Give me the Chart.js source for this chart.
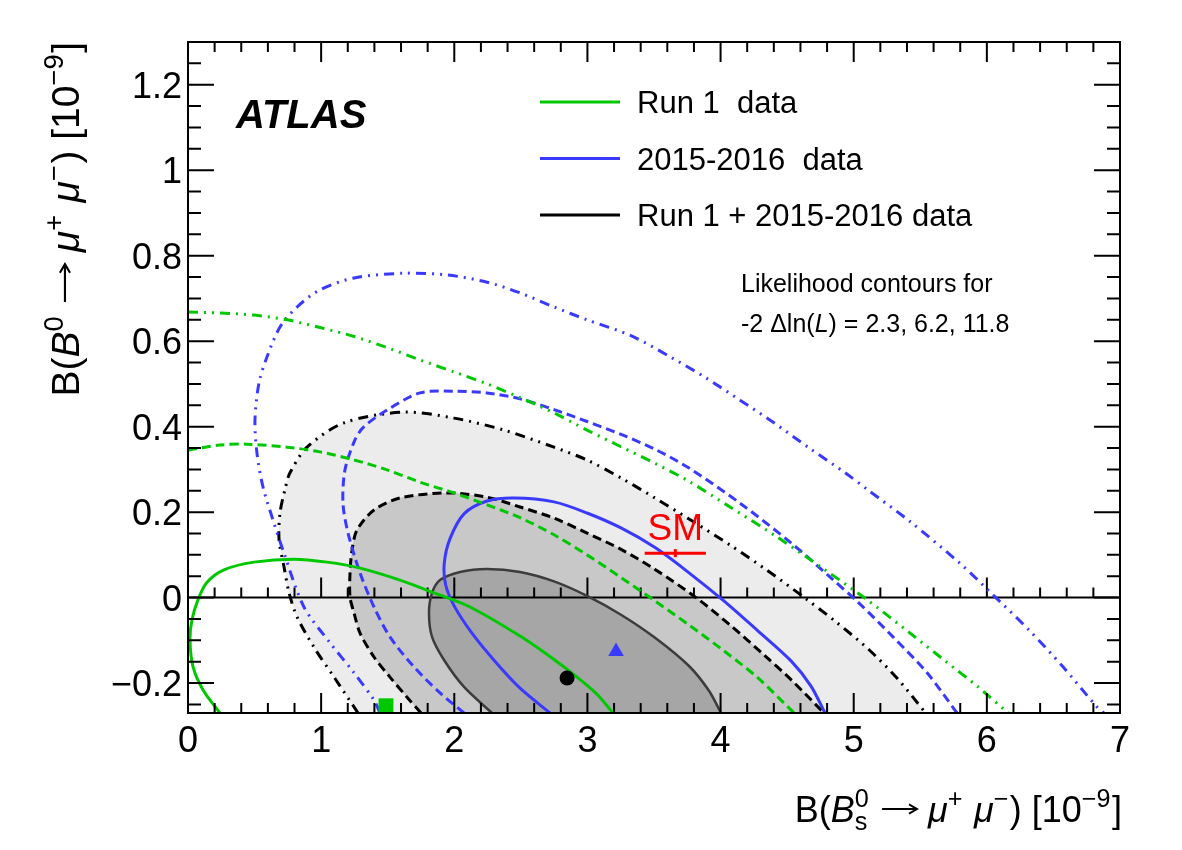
<!DOCTYPE html>
<html lang="en">
<head>
<meta charset="UTF-8">
<title>B0 / Bs to mu mu likelihood contours</title>
<style>
  body { margin: 0; background: #fff; }
  canvas { display: block; }
</style>
</head>
<body>
<canvas id="contours" width="1182" height="850"></canvas>

<script src="https://cdn.jsdelivr.net/npm/chart.js@4.4.1/dist/chart.umd.min.js"></script>
<script>
// contour points, [B(Bs->mumu), B(B0->mumu)] in 1e-9
// run 1 (green)
var run1_23 = [[0.240,-0.270],[0.113,-0.216],[0.038,-0.162],[0.015,-0.099],[0.030,-0.052],[0.075,-0.005],[0.140,0.035],[0.270,0.065],[0.496,0.083],[0.796,0.090],[1.044,0.083],[1.292,0.069],[1.592,0.041],[1.848,0.011],[2.118,-0.022],[2.494,-0.090],[2.741,-0.143],[2.922,-0.186],[3.072,-0.226],[3.192,-0.270]];
var run1_62 = [[0.000,0.345],[0.240,0.357],[0.443,0.359],[0.744,0.352],[0.991,0.341],[1.247,0.322],[1.495,0.299],[1.743,0.270],[1.998,0.245],[2.246,0.217],[2.494,0.187],[2.749,0.147],[2.997,0.100],[3.252,0.047],[3.508,-0.008],[3.763,-0.064],[4.018,-0.123],[4.274,-0.186],[4.552,-0.270]];
var run1_118 = [[0.000,0.668],[0.240,0.666],[0.496,0.661],[0.744,0.650],[0.991,0.632],[1.247,0.611],[1.495,0.585],[1.743,0.556],[1.998,0.528],[2.246,0.500],[2.494,0.468],[2.749,0.432],[2.997,0.392],[3.252,0.353],[3.508,0.314],[3.763,0.272],[4.071,0.212],[4.424,0.142],[4.784,0.065],[5.092,-0.003],[5.423,-0.083],[5.678,-0.146],[5.934,-0.209],[6.159,-0.270]];

// 2015-2016 (blue)
var run2_23 = [[2.719,-0.270],[2.494,-0.212],[2.300,-0.147],[2.130,-0.082],[2.000,-0.020],[1.935,0.030],[1.925,0.081],[1.968,0.138],[2.073,0.196],[2.246,0.226],[2.449,0.233],[2.749,0.224],[2.997,0.198],[3.252,0.163],[3.508,0.117],[3.763,0.058],[4.018,-0.006],[4.274,-0.076],[4.529,-0.148],[4.679,-0.207],[4.784,-0.270]];
var run2_62 = [[2.073,-0.270],[1.893,-0.223],[1.697,-0.162],[1.517,-0.092],[1.397,-0.022],[1.292,0.058],[1.202,0.151],[1.164,0.221],[1.179,0.299],[1.254,0.369],[1.322,0.400],[1.495,0.439],[1.743,0.479],[1.998,0.483],[2.246,0.479],[2.494,0.465],[2.749,0.440],[2.997,0.412],[3.252,0.382],[3.508,0.347],[3.763,0.303],[4.146,0.221],[4.529,0.128],[4.837,0.044],[5.040,-0.013],[5.295,-0.092],[5.551,-0.176],[5.776,-0.270]];
var run2_118 = [[1.442,-0.270],[1.397,-0.240],[1.247,-0.176],[1.067,-0.106],[0.871,-0.022],[0.721,0.104],[0.638,0.182],[0.563,0.259],[0.518,0.338],[0.503,0.416],[0.533,0.502],[0.593,0.563],[0.691,0.633],[0.819,0.680],[0.991,0.720],[1.247,0.748],[1.622,0.759],[1.945,0.755],[2.246,0.738],[2.494,0.713],[2.749,0.680],[2.997,0.650],[3.327,0.613],[3.635,0.561],[3.891,0.514],[4.146,0.462],[4.401,0.409],[4.657,0.352],[4.935,0.292],[5.115,0.250],[5.423,0.178],[5.806,0.078],[6.031,0.011],[6.317,-0.076],[6.572,-0.162],[6.827,-0.256],[6.879,-0.270]];

// run 1 + 2015-2016 (black, filled)
var comb_23 = [[2.283,-0.270],[2.073,-0.209],[1.923,-0.146],[1.833,-0.092],[1.810,-0.036],[1.833,0.011],[1.893,0.041],[2.043,0.060],[2.246,0.067],[2.494,0.060],[2.749,0.038],[2.997,0.004],[3.252,-0.040],[3.508,-0.094],[3.763,-0.160],[3.913,-0.218],[4.003,-0.270]];
var comb_62 = [[1.750,-0.270],[1.645,-0.233],[1.517,-0.186],[1.397,-0.139],[1.292,-0.083],[1.247,-0.036],[1.217,0.001],[1.217,0.058],[1.232,0.111],[1.269,0.158],[1.397,0.205],[1.592,0.233],[1.945,0.245],[2.246,0.235],[2.494,0.212],[2.749,0.186],[2.997,0.151],[3.252,0.113],[3.508,0.066],[3.816,0.000],[4.071,-0.064],[4.326,-0.134],[4.529,-0.192],[4.777,-0.270]];
var comb_118 = [[1.277,-0.270],[1.097,-0.186],[0.946,-0.116],[0.819,-0.045],[0.759,0.011],[0.721,0.072],[0.684,0.135],[0.691,0.198],[0.730,0.255],[0.766,0.292],[0.894,0.352],[1.172,0.409],[1.622,0.434],[1.998,0.420],[2.373,0.392],[2.749,0.352],[2.997,0.322],[3.252,0.280],[3.508,0.233],[3.763,0.184],[4.071,0.123],[4.349,0.064],[4.634,-0.001],[4.860,-0.055],[5.115,-0.122],[5.330,-0.190],[5.540,-0.270]];

// best-fit points and SM prediction
var run1Best = [1.487, -0.253];
var run2Best = [3.215, -0.126];
var combBest = [2.847, -0.188];
var smBs = 3.66, smBsErr = 0.23, smB0 = 0.104;

// axes
var xTicks = [0, 1, 2, 3, 4, 5, 6, 7];
var xTickLabels = ['0', '1', '2', '3', '4', '5', '6', '7'];
var yTicks = [-0.2, 0, 0.2, 0.4, 0.6, 0.8, 1.0, 1.2];
var yTickLabels = ['\u22120.2', '0', '0.2', '0.4', '0.6', '0.8', '1', '1.2'];

var legendLabels = ['Run 1  data', '2015-2016  data', 'Run 1 + 2015-2016 data'];

var GREEN = '#00c800';
var BLUE = '#3a3aff';
var DASHED = [9, 5];
var DASHDOT = [10, 6, 2, 6, 2, 6];

function toXY(p) { return { x: p[0], y: p[1] }; }

function contour(points, color, dash, width, fillColor) {
  return {
    data: points.map(toXY),
    showLine: true,
    borderColor: color,
    borderWidth: width,
    borderDash: dash,
    pointRadius: 0,
    tension: 0.3,
    fill: fillColor ? 'shape' : false,
    backgroundColor: fillColor || 'transparent'
  };
}

function marker(p, style, r, color) {
  return {
    data: [toXY(p)],
    pointStyle: style,
    pointRadius: r,
    pointBackgroundColor: color,
    pointBorderWidth: 0
  };
}

function font(size, italic, bold) {
  return (italic ? 'italic ' : '') + (bold ? 'bold ' : '') + size + 'px "Liberation Sans", Arial, sans-serif';
}

// rich text: parts are {t, it}, {sup, sub} or {arrow}
function richRun(ctx, parts, x, y, size, draw) {
  var cx = x;
  parts.forEach(function (p) {
    if (p.arrow) {
      var aw = size * 1.05, ym = y - size * 0.36;
      if (draw) {
        ctx.save();
        ctx.strokeStyle = ctx.fillStyle;
        ctx.lineWidth = size * 0.055;
        ctx.beginPath();
        ctx.moveTo(cx + size * 0.05, ym);
        ctx.lineTo(cx + aw - size * 0.03, ym);
        ctx.moveTo(cx + aw - size * 0.25, ym - size * 0.13);
        ctx.lineTo(cx + aw - size * 0.03, ym);
        ctx.lineTo(cx + aw - size * 0.25, ym + size * 0.13);
        ctx.stroke();
        ctx.restore();
      }
      cx += aw;
    } else if (p.sup !== undefined || p.sub !== undefined) {
      ctx.font = font(size * 0.7, false);
      var w = 0;
      if (p.sup) {
        if (draw) ctx.fillText(p.sup, cx, y - size * 0.42);
        w = ctx.measureText(p.sup).width;
      }
      if (p.sub) {
        if (draw) ctx.fillText(p.sub, cx, y + size * 0.22);
        w = Math.max(w, ctx.measureText(p.sub).width);
      }
      cx += w + size * 0.04;
    } else {
      ctx.font = font(size, p.it);
      if (draw) ctx.fillText(p.t, cx, y);
      cx += ctx.measureText(p.t).width;
    }
  });
  return cx - x;
}

var xTitle = [{t: 'B('}, {t: 'B', it: true}, {sup: '0', sub: 's'}, {t: ' '}, {arrow: true}, {t: ' '}, {t: '\u03bc', it: true}, {sup: '+'}, {t: ' '},
  {t: '\u03bc', it: true}, {sup: '\u2212'}, {t: ') [10'}, {sup: '\u22129'}, {t: ']'}];
var yTitle = [{t: 'B('}, {t: 'B', it: true}, {sup: '0'}, {t: ' '}, {arrow: true}, {t: ' '}, {t: '\u03bc', it: true}, {sup: '+'}, {t: ' '},
  {t: '\u03bc', it: true}, {sup: '\u2212'}, {t: ') [10'}, {sup: '\u22129'}, {t: ']'}];

var decor = {
  id: 'decor',
  beforeDraw: function (chart) {
    var ctx = chart.ctx;
    ctx.save();
    ctx.fillStyle = '#fff';
    ctx.fillRect(0, 0, chart.width, chart.height);
    ctx.restore();
  },
  beforeDatasetsDraw: function (chart) {
    // horizontal line at B(B0) = 0 with upward ticks
    var ctx = chart.ctx, a = chart.chartArea;
    var xs = chart.scales.x, y0 = chart.scales.y.getPixelForValue(0);
    ctx.save();
    ctx.strokeStyle = '#000';
    ctx.lineWidth = 2;
    ctx.beginPath();
    ctx.moveTo(a.left, y0);
    ctx.lineTo(a.right, y0);
    for (var k = 0; k <= 35; k++) {
      var px = xs.getPixelForValue(k * 0.2);
      var len = (k % 5 === 0) ? 20 : 10;
      ctx.moveTo(px, y0);
      ctx.lineTo(px, y0 - len);
    }
    ctx.stroke();
    ctx.restore();
  },
  afterDatasetsDraw: function (chart) {
    var ctx = chart.ctx, a = chart.chartArea;
    var xs = chart.scales.x, ys = chart.scales.y;
    ctx.save();
    ctx.strokeStyle = '#000';
    ctx.fillStyle = '#000';
    ctx.lineWidth = 2;

    // frame
    ctx.strokeRect(a.left, a.top, a.right - a.left, a.bottom - a.top);

    // inward ticks on all four sides
    ctx.beginPath();
    for (var k = 0; k <= 35; k++) {
      var px = xs.getPixelForValue(k * 0.2);
      var len = (k % 5 === 0) ? 20 : 10;
      ctx.moveTo(px, a.bottom); ctx.lineTo(px, a.bottom - len);
      ctx.moveTo(px, a.top); ctx.lineTo(px, a.top + len);
    }
    for (var j = -5; j <= 26; j++) {
      var py = ys.getPixelForValue(j * 0.05);
      var ylen = (j % 4 === 0) ? 26 : 13;
      ctx.moveTo(a.left, py); ctx.lineTo(a.left + ylen, py);
      ctx.moveTo(a.right, py); ctx.lineTo(a.right - ylen, py);
    }
    ctx.stroke();

    // tick labels
    ctx.font = font(36);
    ctx.textAlign = 'center';
    xTicks.forEach(function (v, i) {
      ctx.fillText(xTickLabels[i], xs.getPixelForValue(v), 752);
    });
    ctx.textAlign = 'right';
    yTicks.forEach(function (v, i) {
      ctx.fillText(yTickLabels[i], 182, ys.getPixelForValue(v) + 13);
    });

    // axis titles
    ctx.textAlign = 'left';
    var w = richRun(ctx, xTitle, 0, 0, 36, false);
    richRun(ctx, xTitle, 1122 - w, 822, 36, true);
    ctx.save();
    ctx.translate(79, 42);
    ctx.rotate(-Math.PI / 2);
    var wy = richRun(ctx, yTitle, 0, 0, 39, false);
    richRun(ctx, yTitle, -wy, 0, 39, true);
    ctx.restore();

    // ATLAS label
    ctx.font = font(40, true, true);
    ctx.fillText('ATLAS', 236, 128);

    // legend
    var legendColors = [GREEN, BLUE, '#000'];
    var legendY = [102, 158.5, 215];
    ctx.lineWidth = 3;
    ctx.font = font(31);
    legendLabels.forEach(function (label, i) {
      ctx.strokeStyle = legendColors[i];
      ctx.beginPath();
      ctx.moveTo(540, legendY[i]);
      ctx.lineTo(620, legendY[i]);
      ctx.stroke();
      ctx.fillText(label, 637, legendY[i] + 11);
    });

    // contour levels note
    ctx.font = font(25);
    ctx.fillText('Likelihood contours for', 741, 292);
    richRun(ctx, [{t: '-2 \u0394ln('}, {t: 'L', it: true}, {t: ') = 2.3, 6.2, 11.8'}], 741, 332, 25, true);

    // SM label
    ctx.fillStyle = '#ff0000';
    ctx.font = font(37);
    ctx.textAlign = 'center';
    ctx.fillText('SM', xs.getPixelForValue(smBs), ys.getPixelForValue(smB0) - 13);
    ctx.restore();
  }
};

var datasets = [
  {
    data: [{ x: smBs, y: smB0 }],
    pointStyle: 'line',
    pointRotation: 90,
    pointRadius: 4,
    pointBorderColor: '#ff0000',
    pointBorderWidth: 3
  },
  {
    data: [{ x: smBs - smBsErr, y: smB0 }, { x: smBs + smBsErr, y: smB0 }],
    showLine: true,
    borderColor: '#ff0000',
    borderWidth: 3,
    pointRadius: 0
  },
  marker(combBest, 'circle', 7.5, '#000'),
  marker(run2Best, 'triangle', 9, BLUE),
  marker(run1Best, 'rect', 10.5, GREEN),
  contour(run1_23, GREEN, [], 3),
  contour(run1_62, GREEN, DASHED, 3),
  contour(run1_118, GREEN, DASHDOT, 3),
  contour(run2_23, BLUE, [], 3),
  contour(run2_62, BLUE, DASHED, 3),
  contour(run2_118, BLUE, DASHDOT, 3),
  contour(comb_23, '#3c3c3c', [], 2.5, '#a6a6a6'),
  contour(comb_62, '#000', DASHED, 3, '#c8c8c8'),
  contour(comb_118, '#000', DASHDOT, 3, '#ececec')
];

new Chart(document.getElementById('contours'), {
  type: 'scatter',
  data: { datasets: datasets },
  options: {
    responsive: false,
    animation: false,
    layout: { padding: { left: 188, top: 42, right: 62, bottom: 137 } },
    scales: {
      x: { type: 'linear', min: 0, max: 7, display: false },
      y: { type: 'linear', min: -0.27, max: 1.3, display: false }
    },
    plugins: {
      legend: { display: false },
      tooltip: { enabled: false },
      filler: { drawTime: 'beforeDatasetsDraw' }
    }
  },
  plugins: [decor]
});
</script>
</body>
</html>
